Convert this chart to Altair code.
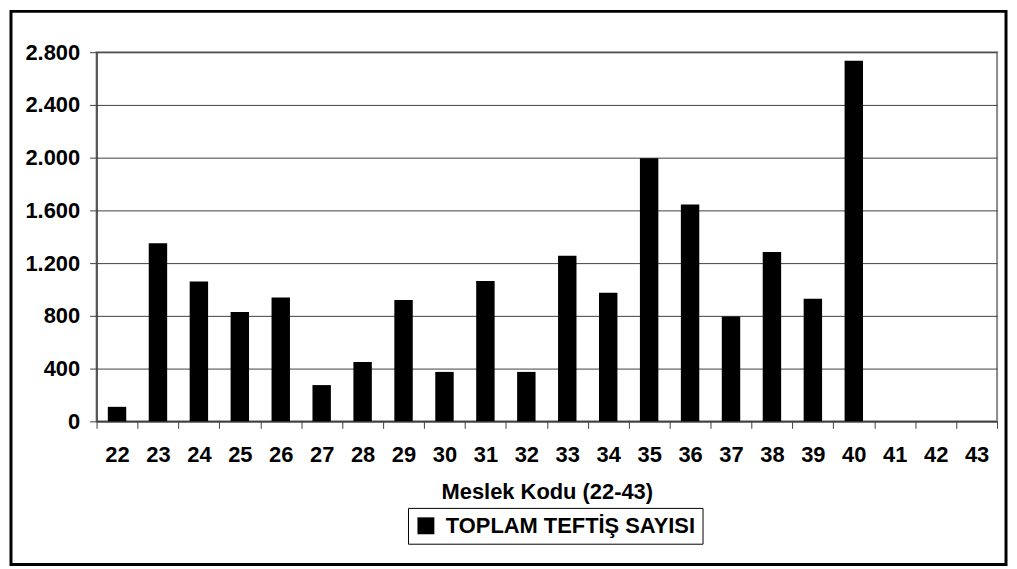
import altair as alt
import pandas as pd

codes = ["22", "23", "24", "25", "26", "27", "28", "29", "30", "31", "32",
         "33", "34", "35", "36", "37", "38", "39", "40", "41", "42", "43"]
values = [110, 1350, 1060, 830, 940, 275, 450, 920, 375, 1065, 375,
          1255, 975, 1995, 1645, 795, 1285, 930, 2735, 0, 0, 0]
series_name = "TOPLAM TEFTİŞ SAYISI"
y_ticks = [0, 400, 800, 1200, 1600, 2000, 2400, 2800]
x_title = "Meslek Kodu (22-43)"

FONT = "Liberation Sans"
FS = 22

df = pd.DataFrame({"code": codes, "value": values, "series": [series_name] * len(codes)})

bars = alt.Chart(df).mark_bar(width=alt.RelativeBandSize(band=0.45)).encode(
    x=alt.X(
        "code:N", sort=codes,
        scale=alt.Scale(paddingInner=0, paddingOuter=0),
        axis=alt.Axis(
            title=x_title, labelAngle=0, tickBand="extent", grid=False,
            tickSize=7, tickColor="#404040", labelPadding=16, titlePadding=17,
            domainColor="#404040", domainWidth=1.5,
            labelFontSize=FS, titleFontSize=FS,
        ),
    ),
    y=alt.Y(
        "value:Q",
        scale=alt.Scale(domain=[0, 2800], nice=False),
        axis=alt.Axis(
            values=y_ticks, title=None,
            labelExpr="replace(format(datum.value, ','), ',', '.')",
            tickSize=7, tickColor="#404040", labelPadding=10, grid=True,
            gridColor="#404040", gridWidth=1,
            domainColor="#404040", domainWidth=1.5,
            labelFontSize=FS,
        ),
    ),
    color=alt.Color(
        "series:N",
        scale=alt.Scale(domain=[series_name], range=["black"]),
        legend=alt.Legend(
            title=None, orient="none", legendX=313, legendY=458,
            symbolType="square", symbolSize=289, symbolStrokeWidth=0,
            labelFontSize=FS, labelFontWeight="bold", labelFont=FONT,
            labelColor="black", labelOffset=9, padding=7,
            strokeColor="black", fillColor="white", labelLimit=400,
        ),
    ),
)

frame = alt.Chart(pd.DataFrame({"a": [0]})).mark_rect(
    fillOpacity=0, stroke="black", strokeWidth=3
).encode(
    x=alt.value(-86), x2=alt.value(914), y=alt.value(-41), y2=alt.value(515)
)

chart = alt.layer(bars, frame).properties(
    width=905, height=371,
    autosize=alt.AutoSizeParams(type="none"),
    padding={"left": 89, "top": 43, "right": 12, "bottom": 145},
).configure_view(
    stroke="#8c8c8c", strokeWidth=2
).configure_axis(
    labelFont=FONT, titleFont=FONT, labelFontWeight="bold", titleFontWeight="bold",
    labelColor="black", titleColor="black",
)

chart.save("out.html", embed_options={"renderer": "svg", "actions": False})
